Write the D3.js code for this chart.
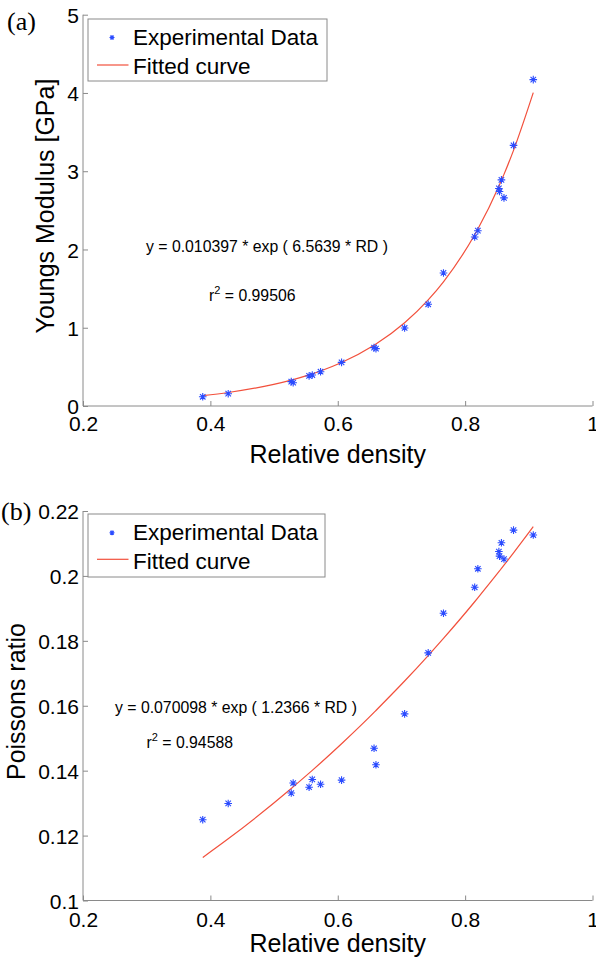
<!DOCTYPE html>
<html>
<head>
<meta charset="utf-8">
<script src="https://cdn.jsdelivr.net/npm/d3@7"></script>
<style>
  html, body { margin: 0; padding: 0; background: #fff; }
  svg { display: block; }
  text { font-family: "Liberation Sans", Arial, Helvetica, sans-serif; fill: #000; }
</style>
</head>
<body>
<svg id="chart" width="596" height="963"></svg>
<script>
// ---------- data ----------
const relDensity = [0.388, 0.428, 0.527, 0.530, 0.555, 0.560, 0.573, 0.606, 0.657, 0.660, 0.705,
                    0.742, 0.766, 0.815, 0.820, 0.853, 0.854, 0.857, 0.861, 0.876, 0.907];
const youngsModulus = [0.118, 0.157, 0.311, 0.298, 0.384, 0.396, 0.438, 0.558, 0.746, 0.733, 0.997,
                       1.30, 1.70, 2.16, 2.24, 2.78, 2.74, 2.89, 2.66, 3.33, 4.17];
const poissonsRatio = [0.1249, 0.1299, 0.1331, 0.1362, 0.1349, 0.1373, 0.1358, 0.1371, 0.1469, 0.1418, 0.1575,
                       0.1763, 0.1885, 0.1965, 0.2022, 0.2075, 0.2061, 0.2102, 0.2052, 0.2141, 0.2126];
// fitted-curve values at the same relative densities
const youngsFit = [0.1327, 0.1726, 0.3305, 0.3371, 0.3973, 0.4105, 0.4471, 0.5552, 0.7759, 0.7913, 1.0632,
                   1.3555, 1.5868, 2.1887, 2.2616, 2.8083, 2.8269, 2.8832, 2.9597, 3.2666, 4.0037];
const poissonFit = [0.11326, 0.11900, 0.13450, 0.13500, 0.13924, 0.14010, 0.14237, 0.14830, 0.15795, 0.15855, 0.16762,
                    0.17547, 0.18075, 0.19204, 0.19324, 0.20129, 0.20154, 0.20229, 0.20329, 0.20710, 0.21518];
const xTicks = [0.2, 0.4, 0.6, 0.8, 1];
const youngsTicks = [0, 1, 2, 3, 4, 5];
const poissonTicks = [0.1, 0.12, 0.14, 0.16, 0.18, 0.2, 0.22];
const legendLabels = ["Experimental Data", "Fitted curve"];

const panels = [
  { label: "(a)", labelPos: [7, 30], xTitle: "Relative density", yTitle: "Youngs Modulus [GPa]",
    y: youngsModulus, fit: youngsFit, yDomain: [0, 5], yRange: [406, 14.7], yTicks: youngsTicks,
    yFmt: d => d3.format("")(d), yTitlePos: [54, 206], xTitleY: 463, xTickY: 431,
    eq: "y = 0.010397 * exp ( 6.5639 * RD  )", eqPos: [146, 251.5], r2: "0.99506", r2Pos: [209, 301],
    legend: { x: 88, y: 19, w: 239, h: 62, y1: 37.5, y2: 65, t1: 45, t2: 74 } },
  { label: "(b)", labelPos: [1, 520], xTitle: "Relative density", yTitle: "Poissons ratio",
    y: poissonsRatio, fit: poissonFit, yDomain: [0.1, 0.22], yRange: [900.5, 511], yTicks: poissonTicks,
    yFmt: d => String(+d.toFixed(2)), yTitlePos: [25, 701.5], xTitleY: 952, xTickY: 927,
    eq: "y = 0.070098 * exp ( 1.2366 * RD  )", eqPos: [115, 713], r2: "0.94588", r2Pos: [146.5, 748],
    legend: { x: 88, y: 514, w: 237, h: 63, y1: 532.7, y2: 559.3, t1: 540, t2: 569 } }
];

const svg = d3.select("#chart");
const axisColor = "#8a8a8a";
const markColor = "#2a4bff";
const fitColor = "#f2503c";

function asterisk(g, cx, cy, r) {
  const k = r * 0.72;
  g.append("path")
    .attr("d", `M${cx - r},${cy}L${cx + r},${cy}M${cx},${cy - r}L${cx},${cy + r}` +
               `M${cx - k},${cy - k}L${cx + k},${cy + k}M${cx - k},${cy + k}L${cx + k},${cy - k}`)
    .attr("stroke", markColor).attr("stroke-width", 1.1).attr("fill", "none");
}

panels.forEach(p => {
  const x = d3.scaleLinear().domain([0.2, 1]).range([83, 592.5]);
  const y = d3.scaleLinear().domain(p.yDomain).range(p.yRange);
  const g = svg.append("g");

  // x axis (ticks inside)
  const xAxis = d3.axisBottom(x).tickValues(xTicks).tickSize(-5).tickPadding(10)
    .tickFormat(d => String(d));
  const gx = g.append("g").attr("transform", `translate(0,${p.yRange[0]})`).call(xAxis);
  gx.select(".domain").attr("stroke", axisColor).attr("d", `M${x.range()[0]},0H${x.range()[1]}`);
  gx.selectAll(".tick line").attr("stroke", axisColor);
  gx.selectAll(".tick text").attr("font-size", 21).attr("dy", null).attr("y", null)
    .attr("transform", `translate(0,${p.xTickY - p.yRange[0]})`).attr("fill", "#000");

  // y axis (ticks inside)
  const yAxis = d3.axisLeft(y).tickValues(p.yTicks).tickSize(-5).tickPadding(9).tickFormat(p.yFmt);
  const gy = g.append("g").attr("transform", `translate(83,0)`).call(yAxis);
  gy.select(".domain").attr("stroke", axisColor).attr("d", `M0,${p.yRange[0]}V${p.yRange[1]}`);
  gy.selectAll(".tick line").attr("stroke", axisColor);
  gy.selectAll(".tick text").attr("font-size", 21).attr("x", -4).attr("dy", "0.36em").attr("fill", "#000");
  gx.attr("font-family", null); gy.attr("font-family", null);

  // fitted curve
  const pts = relDensity.map((d, i) => [d, p.fit[i]]).sort((a, b) => a[0] - b[0]);
  g.append("path").datum(pts)
    .attr("d", d3.line().x(d => x(d[0])).y(d => y(d[1])).curve(d3.curveMonotoneX))
    .attr("fill", "none").attr("stroke", fitColor).attr("stroke-width", 1.2);

  // experimental data
  relDensity.forEach((d, i) => asterisk(g, x(d), y(p.y[i]), 3.8));

  // titles
  g.append("text").attr("x", (x.range()[0] + x.range()[1]) / 2).attr("y", p.xTitleY)
    .attr("text-anchor", "middle").attr("font-size", 25).text(p.xTitle);
  g.append("text").attr("transform", `translate(${p.yTitlePos[0]},${p.yTitlePos[1]}) rotate(-90)`)
    .attr("text-anchor", "middle").attr("font-size", 25).text(p.yTitle);

  // panel label
  g.append("text").attr("x", p.labelPos[0]).attr("y", p.labelPos[1])
    .style("font-family", '"Liberation Serif", "Times New Roman", serif').attr("font-size", 26).text(p.label);

  // equation text
  g.append("text").attr("x", p.eqPos[0]).attr("y", p.eqPos[1]).attr("font-size", 15.8).text(p.eq);
  const r2 = g.append("text").attr("x", p.r2Pos[0]).attr("y", p.r2Pos[1]).attr("font-size", 15.8);
  r2.append("tspan").text("r");
  r2.append("tspan").attr("dy", -7).attr("font-size", 11).text("2");
  r2.append("tspan").attr("dy", 7).text(" = " + p.r2);

  // legend
  const L = p.legend;
  g.append("rect").attr("x", L.x).attr("y", L.y).attr("width", L.w).attr("height", L.h)
    .attr("fill", "#fff").attr("stroke", axisColor).attr("stroke-width", 1);
  asterisk(g, 112, L.y1, 2.5);
  g.append("line").attr("x1", 97).attr("x2", 128.5).attr("y1", L.y2).attr("y2", L.y2)
    .attr("stroke", fitColor).attr("stroke-width", 1.2);
  g.append("text").attr("x", 133).attr("y", L.t1).attr("font-size", 22.5).text(legendLabels[0]);
  g.append("text").attr("x", 133).attr("y", L.t2).attr("font-size", 22.5).text(legendLabels[1]);
});
</script>
</body>
</html>
